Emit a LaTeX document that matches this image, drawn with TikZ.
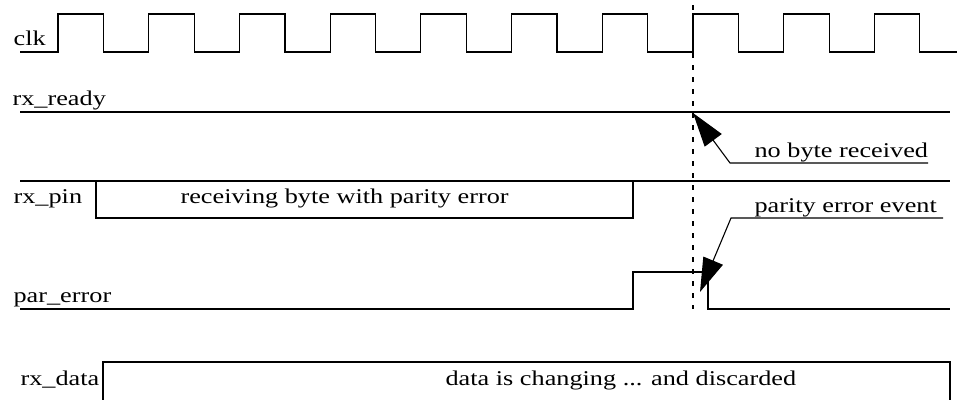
\documentclass[tikz,border=0pt]{standalone}
\usepackage{fontspec}
\setmainfont{Liberation Serif}[FakeStretch=1.25]
\usetikzlibrary{arrows.meta}

\begin{document}
\begin{tikzpicture}[x=1pt, y=-1pt, line width=1.2pt,
  lbl/.style={anchor=base west, inner sep=0pt, font=\fontsize{21}{24}\selectfont},
  pointer/.style={line width=1.1pt, -{Triangle[length=34pt,width=21pt]}},
  marker/.style={line width=1.1pt, dash pattern=on 5pt off 7pt}]

  \useasboundingbox (0,0) rectangle (958,399);

  % Draw the clock
  \def\per{90.7}
  \def\rise{58}
  \def\half{45.5}
  \def\hi{14}
  \def\lo{52}
  \draw (20,\lo) \foreach \k in {0,...,9} {
      -- ({\rise+\k*\per},\lo) -- ({\rise+\k*\per},\hi)
      -- ({\rise+\k*\per+\half},\hi) -- ({\rise+\k*\per+\half},\lo) }
    -- (957,\lo);
  \node[lbl] (clk) at (13,45) {clk};

  % rx_ready stays low
  \draw (20,112) -- (950,112);
  \node[lbl] (ready) at (12,105) {rx\_ready};

  % rx_pin
  \draw (20,181) -- (950,181);
  \draw (96,181) -- (96,218) -- (633,218) -- (633,181);
  \node[lbl] (pin) at (13,203) {rx\_pin};
  \node[lbl] (byte) at (180,203) {receiving byte with parity error};

  % par_error pulse
  \draw (20,309) -- (633,309) -- (633,272) -- (708,272) -- (708,309) -- (950,309);
  \node[lbl] (par) at (13,302) {par\_error};

  % rx_data
  \draw (103,410) -- (103,362) -- (950,362) -- (950,410);
  \node[lbl] (data) at (20,385) {rx\_data};
  \node[lbl] (change) at (445,385) {data is changing ... and discarded};

  % Draw the marker at the clock edge
  \draw[marker] (693,5) -- (693,309);

  % Callouts
  \coordinate (nbr-end) at (928,163);
  \coordinate (nbr-kink) at (730,163);
  \coordinate (nbr-tip) at (693,113);
  \node[lbl] (nbr) at (754,157) {no byte received};
  \draw[pointer] (nbr-end) -- (nbr-kink) -- (nbr-tip);

  \coordinate (pev-end) at (943,218);
  \coordinate (pev-kink) at (731,218);
  \coordinate (pev-tip) at (700,292);
  \node[lbl] (pev) at (754,212) {parity error event};
  \draw[pointer] (pev-end) -- (pev-kink) -- (pev-tip);

\end{tikzpicture}
\end{document}
